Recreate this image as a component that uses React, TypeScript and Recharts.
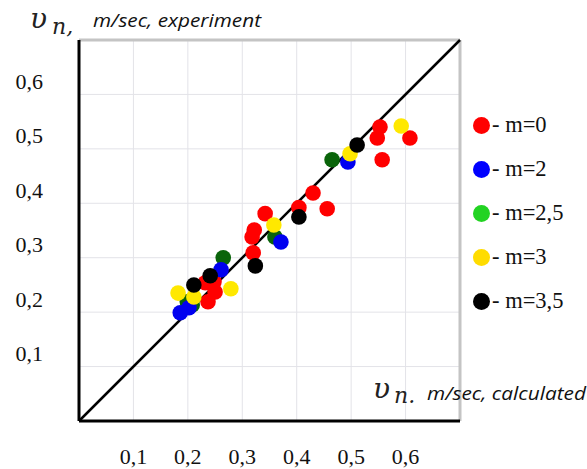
import {
  ScatterChart,
  Scatter,
  XAxis,
  YAxis,
  CartesianGrid,
  ReferenceLine,
} from 'recharts'

// calculated (x) vs experiment (y), m/sec
const m0Calc = [0.232, 0.248, 0.25, 0.237, 0.32, 0.318, 0.322, 0.342, 0.404, 0.43, 0.456, 0.548, 0.553, 0.608, 0.557]
const m0Exp = [0.254, 0.256, 0.237, 0.219, 0.309, 0.338, 0.351, 0.381, 0.392, 0.419, 0.39, 0.52, 0.54, 0.52, 0.48]

const m2Calc = [0.186, 0.202, 0.261, 0.371, 0.494]
const m2Exp = [0.199, 0.208, 0.278, 0.329, 0.476]

const m25Calc = [0.199, 0.208, 0.265, 0.36, 0.465]
const m25Exp = [0.219, 0.213, 0.3, 0.338, 0.48]

const m3Calc = [0.182, 0.211, 0.279, 0.358, 0.498, 0.592]
const m3Exp = [0.235, 0.228, 0.243, 0.36, 0.491, 0.542]

const m35Calc = [0.211, 0.241, 0.324, 0.404, 0.511]
const m35Exp = [0.25, 0.267, 0.285, 0.375, 0.507]

const axisTicks = [0.1, 0.2, 0.3, 0.4, 0.5, 0.6]
const tickLabels = ['0,1', '0,2', '0,3', '0,4', '0,5', '0,6']

const seriesNames = ['m=0', 'm=2', 'm=2,5', 'm=3', 'm=3,5']
const dotColors = ['#ff0000', '#0000f0', '#0a640a', '#ffe800', '#000000']
const legendColors = ['#ff0000', '#0000ff', '#22d322', '#ffdc00', '#000000']

const toPoints = (xs: number[], ys: number[]) => xs.map((x, i) => ({ x, y: ys[i] }))

const series = [
  toPoints(m0Calc, m0Exp),
  toPoints(m2Calc, m2Exp),
  toPoints(m25Calc, m25Exp),
  toPoints(m3Calc, m3Exp),
  toPoints(m35Calc, m35Exp),
]

// draw order: red under, then green, blue, yellow, black on top
const drawOrder = [0, 2, 1, 3, 4]

const labelFor = (v: number) => tickLabels[axisTicks.findIndex((t) => Math.abs(t - v) < 1e-6)] ?? ''

const serif = '"Times New Roman", "Liberation Serif", serif'

const tickFont = {
  fontFamily: serif,
  fontSize: 22,
  fill: '#111',
}

function XTick({ x, y, payload }: any) {
  return (
    <text x={x} y={y} textAnchor="middle" dominantBaseline="central" {...tickFont}>
      {labelFor(payload.value)}
    </text>
  )
}

function YTick({ x, y, payload }: any) {
  return (
    <text x={x} y={y} dy={-13} textAnchor="end" dominantBaseline="central" {...tickFont}>
      {labelFor(payload.value)}
    </text>
  )
}

function Dot(color: string) {
  return (props: any) => <circle cx={props.cx} cy={props.cy} r={7.8} fill={color} />
}

function LegendBox() {
  return (
    <div
      style={{
        position: 'absolute',
        left: 473,
        top: 103,
        width: 114,
        fontFamily: serif,
        fontSize: 22.5,
        color: '#111',
      }}
    >
      {seriesNames.map((name, i) => (
        <div key={name} style={{ display: 'flex', alignItems: 'center', height: 44 }}>
          <span
            style={{
              width: 17,
              height: 17,
              borderRadius: '50%',
              background: legendColors[i],
              display: 'inline-block',
              marginRight: 2,
            }}
          />
          <span>- {name}</span>
        </div>
      ))}
    </div>
  )
}

export default function App() {
  return (
    <div style={{ position: 'absolute', left: 0, top: 0, width: 587, height: 469, background: '#fff' }}>
      <ScatterChart width={587} height={469} margin={{ top: 40, right: 127, bottom: 0, left: 0 }}>
        <CartesianGrid stroke="#e3e3e8" strokeWidth={1} />
        <XAxis
          type="number"
          dataKey="x"
          domain={[0, 0.7]}
          ticks={axisTicks}
          interval={0}
          height={48}
          tickSize={0}
          tickMargin={35}
          tick={<XTick />}
          axisLine={{ stroke: '#000', strokeWidth: 3 }}
          tickLine={false}
        />
        <YAxis
          type="number"
          dataKey="y"
          domain={[0, 0.7]}
          ticks={axisTicks}
          interval={0}
          width={79}
          tickSize={0}
          tickMargin={36}
          tick={<YTick />}
          axisLine={{ stroke: '#000', strokeWidth: 3 }}
          tickLine={false}
        />
        <ReferenceLine y={0.7} stroke="#c4c4c4" strokeWidth={3} />
        <ReferenceLine x={0.7} stroke="#c4c4c4" strokeWidth={3} />
        <ReferenceLine
          segment={[
            { x: 0, y: 0 },
            { x: 0.7, y: 0.7 },
          ]}
          stroke="#000"
          strokeWidth={2.5}
        />
        {drawOrder.map((i) => (
          <Scatter
            key={seriesNames[i]}
            name={seriesNames[i]}
            data={series[i]}
            fill={dotColors[i]}
            shape={Dot(dotColors[i])}
            isAnimationActive={false}
          />
        ))}
      </ScatterChart>
      <LegendBox />
      <svg width={587} height={469} style={{ position: 'absolute', left: 0, top: 0, pointerEvents: 'none' }}>
        <text x={30} y={28} fontFamily="DejaVu Serif" fontStyle="italic" fontSize={28} fill="#222">
          υ
        </text>
        <text x={52} y={34} fontFamily="DejaVu Serif" fontStyle="italic" fontSize={22} fill="#222">
          n,
        </text>
        <text
          x={93}
          y={27}
          fontFamily="Open Sans"
          fontStyle="italic"
          fontSize={19}
          fill="#111"
          textLength={168}
          lengthAdjust="spacingAndGlyphs"
        >
          m/sec, experiment
        </text>
        <text x={373} y={398} fontFamily="DejaVu Serif" fontStyle="italic" fontSize={28} fill="#222">
          υ
        </text>
        <text x={394} y={403} fontFamily="DejaVu Serif" fontStyle="italic" fontSize={22} fill="#222">
          n.
        </text>
        <text
          x={427}
          y={400}
          fontFamily="Open Sans"
          fontStyle="italic"
          fontSize={19}
          fill="#111"
          textLength={159}
          lengthAdjust="spacingAndGlyphs"
        >
          m/sec, calculated
        </text>
      </svg>
    </div>
  )
}
